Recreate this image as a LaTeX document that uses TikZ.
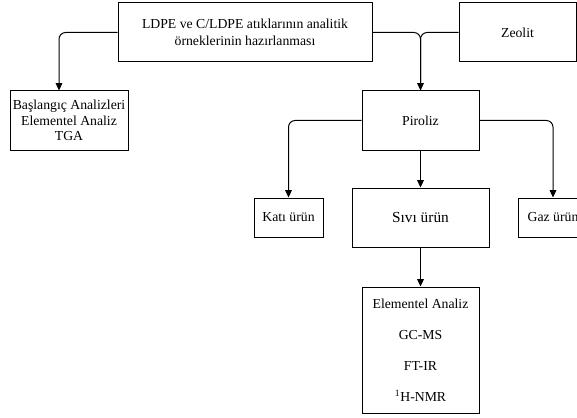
\documentclass[tikz,border=0pt]{standalone}
\usepackage{fontspec}
\setmainfont{Liberation Serif}
\usetikzlibrary{arrows.meta}
\tikzset{
	kasten/.style={draw,line width=0.75pt,align=center,inner sep=0pt,font=\fontsize{10.3}{11.5}\selectfont},
	verbindung/.style={line width=0.75pt,rounded corners=5pt},
	pfeil/.style={verbindung,-{Triangle[length=5.5pt,width=5pt]}},
}
\begin{document}
\begin{tikzpicture}[x=0.75pt,y=-0.75pt]
	\useasboundingbox (0,0) rectangle (577,417);
	\clip (0,0) rectangle (577,417);
	% obere Reihe
	\node[kasten,minimum width=190.5pt,minimum height=44.25pt] (hazirlama) at (245,32.5) {LDPE ve C/LDPE atıklarının analitik\\[1.5pt]örneklerinin hazırlanması};
	\node[kasten,minimum width=87.75pt,minimum height=44.25pt] (zeolit) at (517.5,32.5) {Zeolit};
	% mittlere Reihe
	\node[kasten,minimum width=88.5pt,minimum height=44.25pt] (baslangic) at (69,120.5) {Başlangıç Analizleri\\Elementel Analiz\\TGA};
	\node[kasten,minimum width=87.75pt,minimum height=44.25pt] (piroliz) at (420.5,120.5) {Piroliz};
	% Produkte
	\node[kasten,minimum width=51.75pt,minimum height=29.25pt] (kati) at (288.5,217.5) {Katı ürün};
	\node[kasten,font=\fontsize{11.5}{13}\selectfont,minimum width=102.75pt,minimum height=44.25pt] (sivi) at (420.5,217.5) {Sıvı ürün};
	\node[kasten,minimum width=52.5pt,minimum height=29.25pt] (gaz) at (553,217.5) {Gaz ürün};
	% Analysen
	\node[kasten,font=\fontsize{10.3}{23.25}\selectfont,minimum width=87.75pt,minimum height=94.5pt] (analiz) at (420.5,350) {Elementel Analiz\\GC-MS\\FT-IR\\\textsuperscript{1}H-NMR};
	% Pfeile
	\draw[pfeil] (hazirlama.west) -| ([xshift=-7.5pt]baslangic.north);
	\draw[pfeil] (hazirlama.east) -| (piroliz.north);
	\draw[verbindung] (zeolit.west) -| (piroliz.north);
	\draw[pfeil] (piroliz.west) -| (kati.north);
	\draw[pfeil] (piroliz.east) -| (gaz.north);
	\draw[pfeil] (piroliz.south) -- (sivi.north);
	\draw[pfeil] (sivi.south) -- (analiz.north);
\end{tikzpicture}
\end{document}
